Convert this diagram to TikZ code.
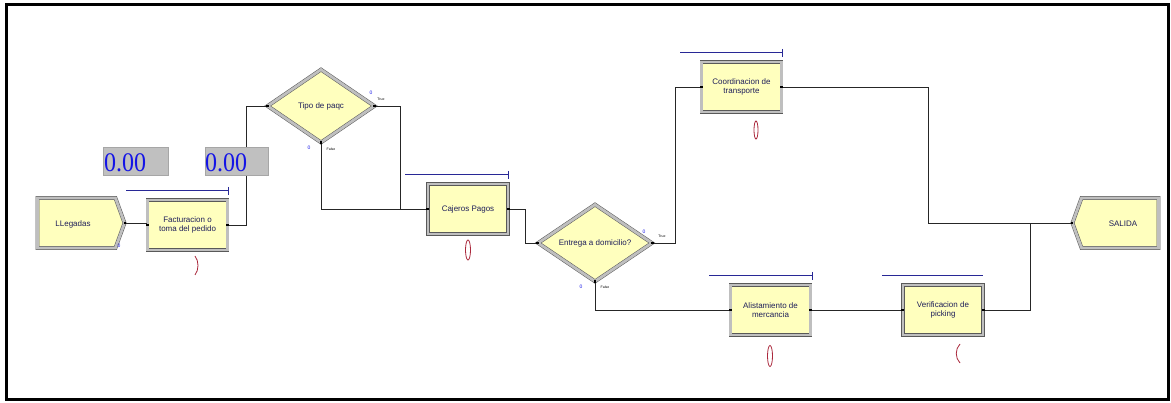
\documentclass[tikz,border=0pt]{standalone}
\usepackage{fontspec}
\setmainfont{Liberation Sans}
\newfontfamily\numfont{Liberation Serif}
\usetikzlibrary{shapes.geometric,shapes.symbols}
\definecolor{modfill}{RGB}{255,255,190}
\definecolor{modtext}{RGB}{30,30,90}
\definecolor{queueblue}{RGB}{40,40,150}
\definecolor{valblue}{RGB}{20,20,230}
\definecolor{valgray}{RGB}{192,192,192}
\definecolor{resred}{RGB}{170,40,60}
\begin{document}
\begin{tikzpicture}[x=1pt,y=-1pt,
  mod/.style={draw=gray!70!black, double=gray!50, double distance=2.8pt, line width=0.5pt,
    fill=modfill, inner sep=0pt},
  procbox/.style={mod, rectangle, minimum width=80pt, minimum height=50pt},
  modtxt/.style={font=\fontsize{8}{9}\selectfont, text=modtext, align=center, inner sep=0pt},
  conn/.style={draw=black!85, line width=0.8pt},
  tiny/.style={font=\fontsize{3.5}{4}\selectfont, inner sep=0pt},
  tinyzero/.style={font=\fontsize{5}{5}\selectfont, text=valblue, inner sep=0pt},
  queue/.style={draw=queueblue, line width=1pt},
  valbox/.style={fill=valgray, draw=gray!70, line width=0.4pt},
  valtxt/.style={font=\numfont\fontsize{24}{24}\selectfont, text=valblue, inner sep=0pt, anchor=base west, yscale=1.12},
  res/.style={draw=resred, line width=0.8pt}
]
\useasboundingbox (0,0) rectangle (1171,403);
\draw[line width=3pt] (6.5,4.5) rectangle (1168.5,399.5);

% modules
\node[mod, signal, signal to=east, signal pointer angle=140, minimum width=87pt, minimum height=50pt] (llegadas) at (76.5,223) {};
\node[modtxt] (llegadasT) at (73,224) {LLegadas};
\node[procbox] (fact) at (187.5,225) {};
\node[modtxt] (factT) at (fact) {Facturacion o\\toma del pedido};
\node[mod, diamond, minimum width=107pt, minimum height=73pt] (tipo) at (321,106) {};
\node[modtxt] (tipoT) at (tipo) {Tipo de paqc};
\node[procbox] (cajeros) at (468,209) {};
\node[modtxt] (cajerosT) at (cajeros) {Cajeros Pagos};
\node[mod, diamond, minimum width=114pt, minimum height=77pt] (entrega) at (595,243) {};
\node[modtxt] (entregaT) at (entrega) {Entrega a domicilio?};
\node[procbox] (coord) at (741.5,87) {};
\node[modtxt] (coordT) at (coord) {Coordinacion de\\transporte};
\node[procbox] (alist) at (770.5,310) {};
\node[modtxt] (alistT) at (alist) {Alistamiento de\\mercancia};
\node[procbox] (verif) at (943,310) {};
\node[modtxt] (verifT) at (verif) {Verificacion de\\picking};
\node[mod, signal, signal to=west, signal pointer angle=140, minimum width=86pt, minimum height=50pt] (salida) at (1120,223) {};
\node[modtxt] (salidaT) at (1123,224) {SALIDA};

% connectors
\draw[conn] (llegadas.east) -- (llegadas.east -| fact.west);
\draw[conn] (fact.east) -- ++(19,0) |- (tipo.west);
\draw[conn] (tipo.east) -- ++(26,0) |- (cajeros.west);
\draw[conn] (tipo.south) |- (cajeros.west);
\draw[conn] (cajeros.east) -- ++(17,0) |- (entrega.west);
\draw[conn] (entrega.east) -- ++(23,0) |- (coord.west);
\draw[conn] (entrega.south) |- (alist.west);
\draw[conn] (coord.east) -- ++(147,0) |- (salida.west);
\draw[conn] (alist.east) -- (verif.west);
\draw[conn] (verif.east) -- ++(47,0) |- (salida.west);

% ports
\foreach \p in {llegadas.east, fact.west, fact.east, tipo.west, tipo.east, tipo.south,
  cajeros.west, cajeros.east, entrega.west, entrega.east, entrega.south,
  coord.west, coord.east, alist.west, alist.east, verif.west, verif.east, salida.west}
  \fill[black] ([xshift=-1.3pt,yshift=-1.3pt]\p) rectangle ([xshift=1.3pt,yshift=1.3pt]\p);

% branch labels
\node[tiny] (tipoTrue) at (381,99) {True};
\node[tiny] (tipoFalse) at (331,149) {False};
\node[tiny] (entTrue) at (662,236) {True};
\node[tiny] (entFalse) at (605,287) {False};
\node[tinyzero] (z1) at (119,246) {0};
\node[tinyzero] (z2) at (371,93) {0};
\node[tinyzero] (z3) at (309,148) {0};
\node[tinyzero] (z4) at (644,232) {0};
\node[tinyzero] (z5) at (581,287) {0};

% queues
\draw[queue] (126,191) -- (228,191); \draw[queue] (228,187) -- (228,195);
\draw[queue] (405,175) -- (508,175); \draw[queue] (508,171) -- (508,179);
\draw[queue] (680,53) -- (782,53); \draw[queue] (782,49) -- (782,57);
\draw[queue] (709,276) -- (812,276); \draw[queue] (812,272) -- (812,280);
\draw[queue] (882,276) -- (983,276);

% value displays
\draw[valbox] (103,147) rectangle (168,175);
\node[valtxt] (v1) at (104,172) {0.00};
\draw[valbox] (205,147) rectangle (268,175);
\node[valtxt] (v2) at (205,172) {0.00};

% resource pictures
\draw[res] (195,256) .. controls (199,261) and (199,270) .. (195,275);
\draw[res] (468,250) ellipse [x radius=2.5pt, y radius=10pt];
\draw[res] (756,130) ellipse [x radius=2pt, y radius=9pt];
\draw[res] (770,356) ellipse [x radius=2.5pt, y radius=10.5pt];
\draw[res] (960,344) .. controls (955,349) and (955,358) .. (960,363);
\end{tikzpicture}
\end{document}
